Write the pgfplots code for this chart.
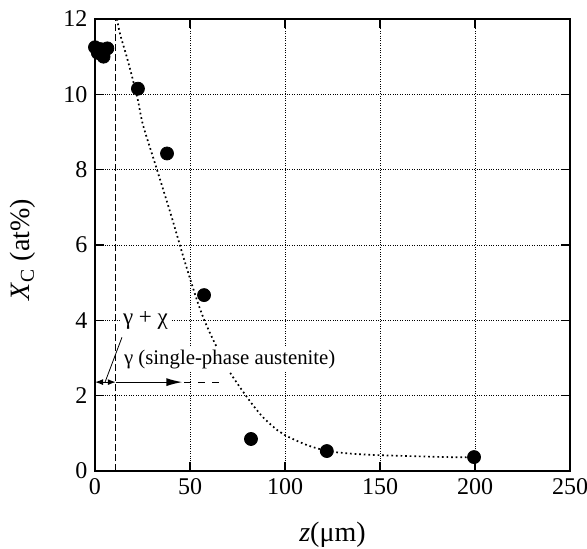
\documentclass[border=0pt]{standalone}
\usepackage{fontspec}
\setmainfont{Liberation Serif}
\usepackage{pgfplots}
\pgfplotsset{compat=1.18}
\usetikzlibrary{arrows.meta}

\begin{document}
\fontsize{11}{13}\selectfont
\begin{tikzpicture}
\begin{axis}[
  scale only axis, width=237.5pt, height=226pt,
  xmin=0, xmax=250, ymin=0, ymax=12,
  xtick={0,50,...,250}, ytick={0,2,...,12},
  tick align=inside, xtick pos=both, ytick pos=both,
  major tick length=4.5pt,
  grid=major,
  grid style={black, line width=0.5pt, dash pattern=on 0.5pt off 0.7pt},
  axis line style={line width=0.8pt},
  every tick/.style={black, line width=0.8pt},
  /pgf/number format/assume math mode=true,
  tick label style={font=\fontsize{12}{14}\selectfont},
  xlabel={\textit{z}(μm)},
  ylabel={\textit{X}\textsubscript{C} (at\%)},
  every axis x label/.style={at={(axis description cs:0.5,-0.14)}, anchor=center, font=\fontsize{14}{16}\selectfont},
  every axis y label/.style={at={(axis description cs:-0.152,0.49)}, rotate=90, anchor=center, font=\fontsize{14}{16}\selectfont},
  clip mode=individual,
]
% carbon profile (fit)
\addplot[smooth, no marks, black, line width=0.85pt, dash pattern=on 0.85pt off 1.45pt] coordinates {
  (11.6,12) (13.2,11.6) (16.8,10.98) (20,10.37) (22.6,9.84) (25.3,9.18)
  (32,8.1) (40,6.8) (47,5.6) (53.7,4.53) (58,3.95) (63,3.4) (70,2.7)
  (80,1.96) (88,1.45) (95.8,1.09) (100,0.95) (111.5,0.69) (122.6,0.53)
  (135,0.46) (150,0.42) (170,0.39) (185,0.37) (200,0.36)
};
% measured values
\addplot[only marks, mark=*, mark size=3.25pt, black] coordinates {
  (0,11.25) (1.5,11.1) (3,11.2) (4.5,11.0) (6.5,11.22)
  (22.6,10.15) (37.9,8.43) (57.4,4.67) (82.1,0.85) (122,0.53) (199.5,0.37)
};
% phase boundaries
\draw[black, line width=0.5pt, dash pattern=on 3.3pt off 1.7pt] (axis cs:11,0) -- (axis cs:11,12);
\draw[black, line width=0.6pt, {Latex[length=4pt,width=3pt]}-{Latex[length=4pt,width=3pt]}] (axis cs:0,2.36) -- (axis cs:11,2.36);
\draw[black, line width=0.6pt, -{Latex[length=8pt,width=4pt]}] (axis cs:11,2.36) -- (axis cs:46,2.36);
\draw[black, line width=0.6pt, dash pattern=on 3.5pt off 3.5pt] (axis cs:47,2.36) -- (axis cs:67.5,2.36);
\node[fill=white, anchor=west, inner sep=1pt, font=\fontsize{11.5}{13}\selectfont] at (axis cs:13.5,4) {γ + χ};
\node[fill=white, anchor=west, inner sep=1.5pt, font=\fontsize{10.4}{12}\selectfont] at (axis cs:13.5,2.95) {γ (single-phase austenite)};
\draw[black, line width=0.4pt] (axis cs:5.3,2.36) -- (axis cs:14.2,3.55);
\end{axis}
\pgfresetboundingbox
\path ([shift={(-47.5pt,-38.5pt)}]current axis.south west) rectangle ([shift={(8.5pt,9.5pt)}]current axis.north east);
\end{tikzpicture}
\end{document}
